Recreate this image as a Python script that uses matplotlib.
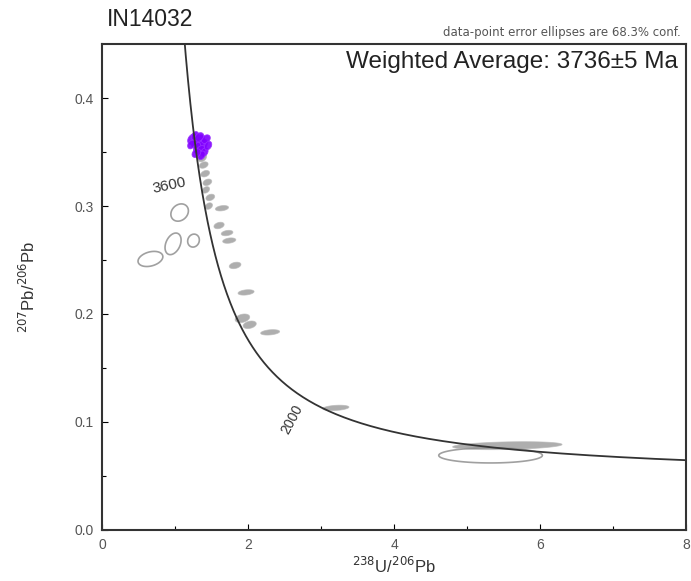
import numpy as np
import matplotlib
matplotlib.use("Agg")
import matplotlib.pyplot as plt
from matplotlib.patches import Polygon

plt.rcParams['font.family'] = ['Liberation Sans', 'DejaVu Sans']

# decay constants for the concordia (per year)
lambda238 = 1.55125e-10
lambda235 = 9.8485e-10
u_ratio = 137.88

# concordia ages (Ma) and age labels
concordia_ages = np.arange(600, 4301, 10)
label_ages = [3600, 2000]

# purple = used in weighted average
purple_x = [1.24, 1.28, 1.33, 1.38, 1.42, 1.30, 1.35, 1.27, 1.40, 1.22, 1.33, 1.45, 1.36, 1.29]
purple_sx = [0.07, 0.06, 0.07, 0.06, 0.06, 0.05, 0.06, 0.05, 0.05, 0.05, 0.06, 0.05, 0.05, 0.06]
purple_y = [0.362, 0.359, 0.360, 0.357, 0.362, 0.354, 0.352, 0.365, 0.350, 0.357, 0.364, 0.356, 0.347, 0.349]
purple_sy = [0.005, 0.005, 0.006, 0.005, 0.004, 0.005, 0.004, 0.004, 0.004, 0.004, 0.004, 0.004, 0.004, 0.004]
purple_rho = [0.3] * 14

# grey filled ellipses (not in the mean)
grey_x = [1.37, 1.39, 1.41, 1.44, 1.42, 1.48, 1.46, 1.64, 1.60, 1.71, 1.74, 1.82, 1.97, 1.92, 2.02, 2.30, 3.20, 5.55]
grey_sx = [0.06, 0.06, 0.06, 0.06, 0.05, 0.06, 0.05, 0.09, 0.07, 0.08, 0.09, 0.08, 0.11, 0.10, 0.09, 0.13, 0.18, 0.75]
grey_y = [0.345, 0.338, 0.330, 0.322, 0.315, 0.308, 0.300, 0.298, 0.282, 0.275, 0.268, 0.245, 0.220, 0.196, 0.190, 0.183, 0.113, 0.078]
grey_sy = [0.004, 0.003, 0.003, 0.003, 0.003, 0.003, 0.003, 0.0025, 0.003, 0.0025, 0.0025, 0.003, 0.0025, 0.004, 0.0035, 0.0025, 0.0025, 0.0037]
grey_rho = [0.3] * 18

# open ellipses (rejected)
open_x = [0.66, 0.97, 1.06, 1.25, 5.32]
open_sx = [0.17, 0.11, 0.12, 0.08, 0.71]
open_y = [0.251, 0.265, 0.294, 0.268, 0.069]
open_sy = [0.007, 0.010, 0.008, 0.006, 0.007]
open_rho = [0.3, 0.35, 0.2, 0.1, 0.0]


def concordia(t_ma):
    t = np.asarray(t_ma) * 1e6
    e8 = np.exp(lambda238 * t) - 1
    e5 = np.exp(lambda235 * t) - 1
    return 1 / e8, e5 / e8 / u_ratio


def ellipse_points(x, sx, y, sy, rho, n=80):
    cov = np.array([[sx * sx, rho * sx * sy], [rho * sx * sy, sy * sy]])
    vals, vecs = np.linalg.eigh(cov)
    a = np.linspace(0, 2 * np.pi, n)
    circ = np.vstack([np.cos(a), np.sin(a)])
    pts = vecs @ (np.sqrt(vals)[:, None] * circ)
    return np.column_stack([pts[0] + x, pts[1] + y])


fig = plt.figure(figsize=(6.91, 5.81), dpi=100)
ax = fig.add_axes([0.148, 0.088, 0.845, 0.836])

# open ellipses
for i in range(len(open_x)):
    p = Polygon(ellipse_points(open_x[i], open_sx[i], open_y[i], open_sy[i], open_rho[i]),
                closed=True, fill=False, edgecolor='#a0a0a0', lw=1.2)
    ax.add_patch(p)

# grey filled
for i in range(len(grey_x)):
    p = Polygon(ellipse_points(grey_x[i], grey_sx[i], grey_y[i], grey_sy[i], grey_rho[i]),
                closed=True, facecolor='#8c8c8c', edgecolor='#b8b8b8', lw=0.6, alpha=0.7)
    ax.add_patch(p)

# purple filled
for i in range(len(purple_x)):
    p = Polygon(ellipse_points(purple_x[i], purple_sx[i], purple_y[i], purple_sy[i], purple_rho[i]),
                closed=True, facecolor='#8000ff', edgecolor='#9a30ff', lw=0.6, alpha=0.9)
    ax.add_patch(p)

cx, cy = concordia(concordia_ages)
ax.plot(cx, cy, color='#333333', lw=1.3, zorder=1)

# age labels
lx, ly = concordia(label_ages[0])
ax.text(lx - 0.42, ly - 0.007, str(label_ages[0]), fontsize=11, rotation=12,
        ha='center', va='center', color='#333333')
lx, ly = concordia(label_ages[1])
ax.text(lx - 0.15, ly - 0.021, str(label_ages[1]), fontsize=10, rotation=62,
        ha='center', va='center', color='#333333')

ax.set_xlim(0, 8)
ax.set_ylim(0, 0.45)
ax.set_xticks([0, 2, 4, 6, 8])
ax.set_xticks([1, 3, 5, 7], minor=True)
ax.set_yticks([0.0, 0.1, 0.2, 0.3, 0.4])
ax.set_yticks([0.05, 0.15, 0.25, 0.35], minor=True)
ax.set_yticklabels(['0.0', '0.1', '0.2', '0.3', '0.4'])
ax.tick_params(direction='in', length=4, width=0.8, labelsize=10, labelcolor='#555555', pad=6)
ax.tick_params(which='minor', direction='in', length=3, width=0.8)
for s in ax.spines.values():
    s.set_linewidth(1.5)
    s.set_color('#333333')

ax.set_xlabel(r'$^{238}$U/$^{206}$Pb', fontsize=12, color='#333333', labelpad=3)
ax.set_ylabel(r'$^{207}$Pb/$^{206}$Pb', fontsize=12, color='#333333', labelpad=26)

fig.text(0.155, 0.966, 'IN14032', fontsize=16.5, color='#222222', ha='left', va='center')
fig.text(0.985, 0.944, 'data-point error ellipses are 68.3% conf.', fontsize=8.5,
         family=['DejaVu Sans'], color='#555555', ha='right', va='center')
ax.text(0.985, 0.963, 'Weighted Average: 3736\u00b15 Ma', transform=ax.transAxes,
        fontsize=17.5, color='#222222', ha='right', va='center')

fig.savefig('out.png', dpi=100)
